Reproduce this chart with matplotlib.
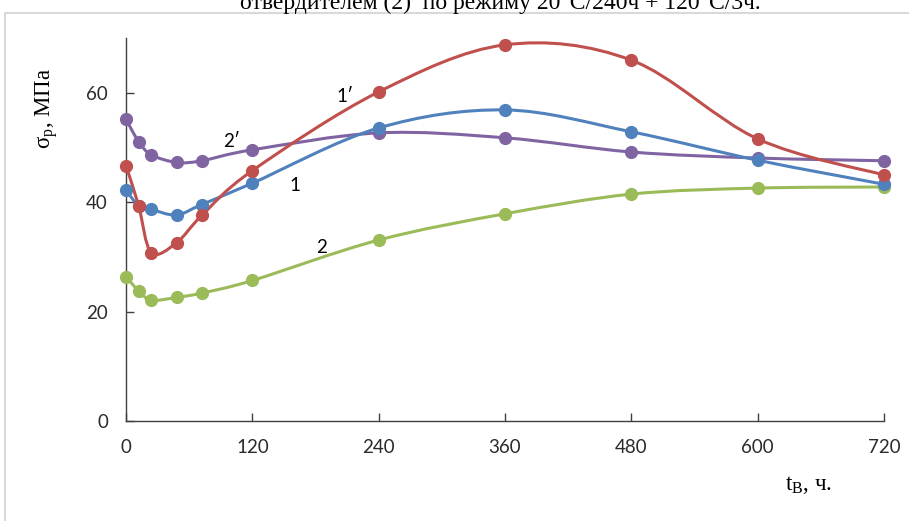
import numpy as np
import matplotlib.pyplot as plt
from matplotlib.path import Path
from matplotlib.patches import PathPatch, Rectangle

plt.rcParams['mathtext.fontset'] = 'custom'
plt.rcParams['mathtext.rm'] = 'Liberation Serif'
plt.rcParams['mathtext.it'] = 'Liberation Serif:italic'

# time, h
t = [0, 12, 24, 48, 72, 120, 240, 360, 480, 600, 720]

# tensile strength, MPa
s1 = [42.2, 39.4, 38.7, 37.7, 39.6, 43.5, 53.6, 56.9, 52.9, 47.7, 43.3]   # 1
s1p = [46.7, 39.4, 30.8, 32.6, 37.6, 45.8, 60.2, 68.8, 66.0, 51.6, 45.0]  # 1'
s2 = [26.4, 23.8, 22.1, 22.6, 23.4, 25.7, 33.1, 37.9, 41.5, 42.6, 42.8]   # 2
s2p = [55.2, 51.1, 48.7, 47.3, 47.6, 49.6, 52.7, 51.8, 49.2, 48.1, 47.6]  # 2'

colors = {'1': '#4F81BD', "1'": '#C0504D', '2': '#9BBB59', "2'": '#8064A2'}


def smooth_path(xs, ys):
    # Excel-like smoothed line: Catmull-Rom converted to cubic Bezier
    p = np.column_stack([xs, ys]).astype(float)
    n = len(p)
    verts = [p[0]]
    codes = [Path.MOVETO]
    for i in range(n - 1):
        p0 = p[i - 1] if i > 0 else p[i]
        p3 = p[i + 2] if i + 2 < n else p[i + 1]
        c1 = p[i] + (p[i + 1] - p0) / 6
        c2 = p[i + 1] - (p3 - p[i]) / 6
        verts += [c1, c2, p[i + 1]]
        codes += [Path.CURVE4] * 3
    return Path(verts, codes)


fig = plt.figure(figsize=(9.09, 5.21), dpi=100)
ax = fig.add_axes([126 / 909, 1 - 421 / 521, 758 / 909, 382.7 / 521])

for ys, key in [(s2, '2'), (s2p, "2'"), (s1, '1'), (s1p, "1'")]:
    c = colors[key]
    ax.add_patch(PathPatch(smooth_path(t, ys), fill=False, edgecolor=c,
                           lw=2.2, clip_on=False, zorder=3))
    ax.plot(t, ys, 'o', color=c, ms=8.5, clip_on=False, zorder=4)

lbl = dict(fontsize=13.5, family='Lato', color='black', zorder=5)
ax.text(208, 59.3, "1\u2032", ha='center', va='center', **lbl)
ax.text(100, 51.2, "2\u2032", ha='center', va='center', **lbl)
ax.text(160, 43.0, "1", ha='center', va='center', **lbl)
ax.text(186, 31.8, "2", ha='center', va='center', **lbl)

ax.set_xlim(0, 720)
ax.set_ylim(0, 70)
ax.set_xticks([0, 120, 240, 360, 480, 600, 720])
ax.set_yticks([0, 20, 40, 60])
for s in ['top', 'right']:
    ax.spines[s].set_visible(False)
for s in ['left', 'bottom']:
    ax.spines[s].set_color('#404040')
    ax.spines[s].set_linewidth(1.0)
ax.tick_params(direction='in', length=6, width=1, color='#404040',
               labelsize=13.5, labelcolor='#2b2b2b')
ax.tick_params(axis='x', pad=13)
ax.tick_params(axis='y', pad=13)
for lab in ax.get_xticklabels() + ax.get_yticklabels():
    lab.set_family('Lato')

fig.text(47 / 909, 1 - 108 / 521, "\u03c3$_\\mathrm{р}$, МПа", rotation=90,
         ha='center', va='center', fontsize=16.5, family='Liberation Serif')
fig.text(808 / 909, 1 - 485 / 521, "t$_\\mathrm{B}$, ч.",
         ha='center', va='center', fontsize=16.5, family='Liberation Serif')

# light frame of the embedded chart
fig.patches.append(Rectangle((5 / 909, -0.1), 1.2, 1.1 - 13 / 521,
                             transform=fig.transFigure, fill=False,
                             edgecolor='#d9d9d9', lw=1.5))

# caption cut off by the top edge (as in the reference)
fig.text(500 / 909, 1 - 9.5 / 521,
         "отвердителем (2)  по режиму 20°С/240ч + 120°С/3ч.",
         ha='center', va='baseline', fontsize=17, family='Liberation Serif')

fig.savefig('out.png', dpi=100, facecolor='white')
